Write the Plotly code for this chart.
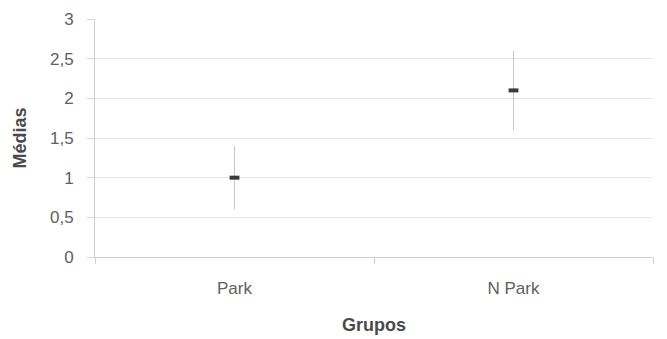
import plotly.graph_objects as go

# Group means with their error half-widths
grupos = ["Park", "N Park"]
medias = [1.0, 2.1]
erros = [0.4, 0.5]

y_ticks = [0, 0.5, 1, 1.5, 2, 2.5, 3]

fig = go.Figure(
    go.Scatter(
        x=grupos,
        y=medias,
        mode="markers",
        marker=dict(symbol="line-ew", size=7, line=dict(width=4, color="#3a3a3a")),
        error_y=dict(type="data", array=erros, visible=True,
                     color="#c8c8c8", thickness=1, width=0),
        showlegend=False,
    )
)

fig.update_layout(
    width=667,
    height=339,
    margin=dict(l=95, r=14, t=19, b=82),
    plot_bgcolor="white",
    paper_bgcolor="white",
    separators=",.",
    font=dict(family="Liberation Sans, Arial, sans-serif", size=12, color="#555555"),
)

fig.update_xaxes(
    type="category",
    range=[-0.5, 1.5],
    automargin=False,
    tickson="boundaries",
    ticks="outside",
    ticklen=6,
    tickcolor="#cfcfcf",
    showline=True,
    linecolor="#cfcfcf",
    linewidth=1,
    showgrid=False,
    ticklabelstandoff=16,
    tickfont=dict(size=17, color="#606060"),
    title=dict(text="<b>Grupos</b>", font=dict(size=18, color="#4a4a4a"), standoff=20),
)

fig.update_yaxes(
    range=[0, 3],
    automargin=False,
    tickvals=y_ticks,
    ticks="outside",
    ticklen=7,
    tickcolor="#d6d6d6",
    showline=True,
    linecolor="#cfcfcf",
    linewidth=1,
    showgrid=True,
    gridcolor="#e6e6e6",
    zeroline=False,
    ticklabelstandoff=10,
    tickfont=dict(size=17, color="#606060"),
    title=dict(text="<b>Médias</b>", font=dict(size=18, color="#4a4a4a"), standoff=18),
)

fig.write_html("out.html")
